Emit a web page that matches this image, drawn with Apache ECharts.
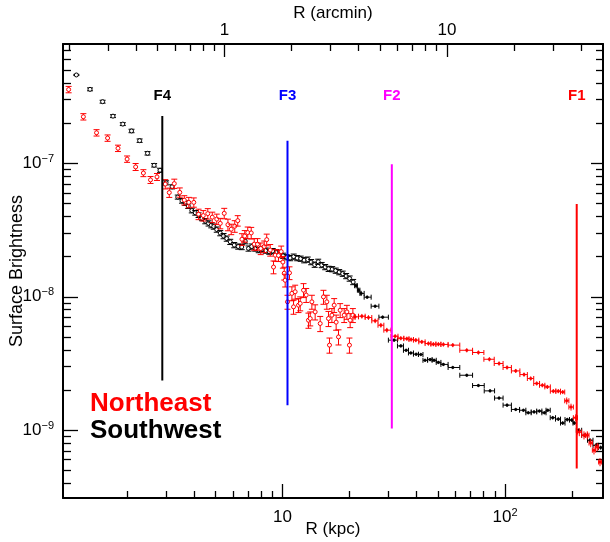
<!DOCTYPE html>
<html><head><meta charset="utf-8">
<script src="https://cdn.jsdelivr.net/npm/echarts@6.0.0/dist/echarts.min.js"></script>
<style>html,body{margin:0;padding:0;background:#fff}#c{width:610px;height:542px}</style>
</head><body><div id="c"></div>
<script>
// ---- Northeast (red) profile: radius (kpc), surface brightness, relative error ----
const rNE = [
 1.094, 1.274, 1.460, 1.637, 1.823, 2.003, 2.188, 2.371, 2.552, 2.729,
 2.973, 3.099, 3.264, 3.455, 3.620, 3.792, 3.994, 4.196, 4.406, 4.616,
 4.835, 5.065, 5.252, 5.473, 5.686, 5.883, 6.101, 6.293, 6.572, 6.766,
 6.978, 7.235, 7.463, 7.722, 7.982, 8.277, 8.492, 8.807, 9.112, 9.273,
 9.594, 9.867, 10.04, 10.18, 10.28, 10.53, 10.75, 11.02, 11.21, 11.40,
 11.80, 12.01, 12.43, 12.78, 13.08, 13.32, 13.55, 14.02, 14.77, 15.28,
 15.82, 16.09, 16.26, 16.67, 17.07, 17.42, 17.85, 18.16, 18.93, 19.47,
 19.99, 20.14, 20.71, 21.20, 22.73, 24.33, 26.08, 27.67, 29.43, 32.07,
 34.01, 36.19, 37.84, 39.72, 42.26, 45.25, 47.64, 50.18, 52.84, 58.24,
 67.30, 75.88, 85.03, 94.0, 102.1, 111.7, 121.7, 130.4, 138.8, 147.1,
 154.9, 164.8, 173.5, 181.6, 189.3, 197.9, 207.7, 215.6, 226.3, 234.2,
 242.6, 251.0, 259.7, 267.1
];
const sbNE = [
 3.578e-7, 2.236e-7, 1.696e-7, 1.548e-7, 1.298e-7, 1.077e-7, 9.41e-8, 8.46e-8, 7.52e-8, 7.92e-8,
 6.99e-8, 6.04e-8, 7.05e-8, 6.06e-8, 5.30e-8, 5.10e-8, 5.10e-8, 4.16e-8, 4.06e-8, 4.20e-8,
 3.95e-8, 3.82e-8, 3.55e-8, 4.22e-8, 3.47e-8, 3.21e-8, 3.38e-8, 3.72e-8, 2.70e-8, 2.85e-8,
 3.03e-8, 3.01e-8, 2.48e-8, 2.48e-8, 2.30e-8, 2.38e-8, 2.68e-8, 2.24e-8, 1.67e-8, 2.05e-8,
 2.04e-8, 2.18e-8, 1.82e-8, 1.50e-8, 1.33e-8, 9.16e-9, 1.51e-8, 1.06e-8, 8.40e-9, 1.09e-8,
 8.65e-9, 8.91e-9, 1.12e-8, 1.03e-8, 6.67e-9, 6.87e-9, 9.16e-9, 7.70e-9, 6.30e-9, 9.98e-9,
 9.16e-9, 6.87e-9, 4.34e-9, 7.28e-9, 8.65e-9, 6.45e-9, 5.00e-9, 7.93e-9, 7.28e-9, 7.70e-9,
 4.34e-9, 6.67e-9, 7.28e-9, 7.07e-9, 7.15e-9, 6.99e-9, 6.60e-9, 6.12e-9, 5.62e-9, 5.06e-9,
 4.89e-9, 4.85e-9, 4.78e-9, 4.73e-9, 4.59e-9, 4.46e-9, 4.41e-9, 4.41e-9, 4.39e-9, 4.34e-9,
 3.97e-9, 3.82e-9, 3.40e-9, 3.16e-9, 2.95e-9, 2.78e-9, 2.61e-9, 2.44e-9, 2.24e-9, 2.17e-9,
 2.11e-9, 1.96e-9, 1.96e-9, 1.93e-9, 1.66e-9, 1.49e-9, 1.24e-9, 9.69e-10, 9.16e-10, 9.16e-10,
 8.01e-10, 7.07e-10, 7.48e-10, 5.77e-10
];
const errNE = [
 0.055, 0.055, 0.055, 0.055, 0.055, 0.055, 0.06, 0.06, 0.06, 0.06,
 0.08, 0.08, 0.08, 0.08, 0.08, 0.09, 0.08, 0.09, 0.09, 0.09,
 0.09, 0.09, 0.09, 0.09, 0.10, 0.09, 0.10, 0.09, 0.10, 0.10,
 0.10, 0.10, 0.10, 0.10, 0.10, 0.10, 0.10, 0.10, 0.11, 0.10,
 0.10, 0.10, 0.10, 0.11, 0.11, 0.12, 0.11, 0.12, 0.12, 0.12,
 0.12, 0.12, 0.12, 0.12, 0.13, 0.12, 0.12, 0.13, 0.13, 0.12,
 0.12, 0.13, 0.13, 0.12, 0.12, 0.13, 0.13, 0.12, 0.12, 0.12,
 0.13, 0.12, 0.12, 0.05, 0.04, 0.04, 0.04, 0.04, 0.04, 0.035,
 0.035, 0.035, 0.035, 0.035, 0.035, 0.035, 0.035, 0.035, 0.035, 0.035,
 0.035, 0.035, 0.035, 0.035, 0.035, 0.035, 0.035, 0.035, 0.035, 0.035,
 0.035, 0.035, 0.035, 0.035, 0.06, 0.06, 0.06, 0.07, 0.07, 0.07,
 0.07, 0.07, 0.07, 0.07
];

// ---- Southwest (black) profile ----
const rSW = [
 1.185, 1.365, 1.555, 1.731, 1.916, 2.097, 2.280, 2.474, 2.649, 2.815,
 2.998, 3.190, 3.384, 3.535, 3.658, 3.773, 3.912, 4.055, 4.196, 4.347,
 4.498, 4.654, 4.785, 4.911, 5.065, 5.252, 5.434, 5.616, 5.823, 6.069,
 6.326, 6.559, 6.800, 7.036, 7.272, 7.541, 7.818, 8.107, 8.407, 8.716,
 9.036, 9.370, 9.714, 10.07, 10.44, 10.83, 11.23, 11.64, 12.07, 12.51,
 12.98, 13.45, 13.95, 14.47, 15.00, 15.55, 16.12, 16.72, 17.34, 17.98,
 18.64, 19.32, 20.03, 20.77, 21.42, 21.99, 22.56, 24.01, 26.08, 28.18,
 31.74, 34.01, 35.93, 37.72, 39.84, 41.83, 43.73, 46.05, 47.99, 50.18,
 52.84, 58.24, 67.30, 75.88, 85.64, 94.0, 102.1, 111.7, 120.9, 127.2,
 135.0, 142.6, 150.2, 155.5, 163.8, 173.5, 181.6, 190.4, 199.3, 204.7,
 213.4, 228.7, 240.8, 256.2, 269.0
];
const sbSW = [
 4.60e-7, 3.59e-7, 2.90e-7, 2.26e-7, 1.97e-7, 1.75e-7, 1.48e-7, 1.19e-7, 9.68e-8, 8.88e-8,
 7.15e-8, 6.67e-8, 5.59e-8, 5.24e-8, 5.04e-8, 4.78e-8, 4.43e-8, 4.26e-8, 4.09e-8, 3.87e-8,
 3.69e-8, 3.55e-8, 3.44e-8, 3.36e-8, 3.19e-8, 3.00e-8, 2.85e-8, 2.73e-8, 2.58e-8, 2.44e-8,
 2.38e-8, 2.36e-8, 2.61e-8, 2.30e-8, 2.38e-8, 2.30e-8, 2.24e-8, 2.28e-8, 2.22e-8, 2.18e-8,
 2.20e-8, 2.16e-8, 2.11e-8, 2.03e-8, 1.98e-8, 1.95e-8, 2.00e-8, 1.95e-8, 1.93e-8, 1.88e-8,
 1.90e-8, 1.82e-8, 1.74e-8, 1.83e-8, 1.73e-8, 1.67e-8, 1.62e-8, 1.61e-8, 1.57e-8, 1.53e-8,
 1.49e-8, 1.43e-8, 1.37e-8, 1.29e-8, 1.21e-8, 1.12e-8, 1.06e-8, 9.93e-9, 8.50e-9, 7.03e-9,
 4.73e-9, 4.28e-9, 3.97e-9, 3.79e-9, 3.71e-9, 3.69e-9, 3.34e-9, 3.38e-9, 3.34e-9, 3.22e-9,
 3.11e-9, 2.95e-9, 2.58e-9, 2.16e-9, 1.97e-9, 1.74e-9, 1.54e-9, 1.43e-9, 1.41e-9, 1.35e-9,
 1.37e-9, 1.39e-9, 1.35e-9, 1.41e-9, 1.24e-9, 1.21e-9, 1.13e-9, 1.20e-9, 1.19e-9, 1.13e-9,
 9.98e-10, 9.16e-10, 8.40e-10, 7.70e-10, 7.40e-10
];
const errSW = [
 0.01, 0.025, 0.025, 0.025, 0.025, 0.03, 0.03, 0.03, 0.03, 0.035,
 0.035, 0.035, 0.035, 0.04, 0.04, 0.04, 0.04, 0.04, 0.04, 0.04,
 0.045, 0.045, 0.045, 0.045, 0.045, 0.045, 0.045, 0.045, 0.045, 0.045,
 0.045, 0.045, 0.045, 0.045, 0.045, 0.045, 0.045, 0.045, 0.045, 0.045,
 0.045, 0.045, 0.045, 0.045, 0.045, 0.045, 0.045, 0.045, 0.045, 0.045,
 0.045, 0.045, 0.045, 0.045, 0.045, 0.045, 0.045, 0.045, 0.045, 0.045,
 0.045, 0.045, 0.045, 0.045, 0.045, 0.045, 0.045, 0.025, 0.025, 0.025,
 0.025, 0.025, 0.025, 0.025, 0.025, 0.025, 0.025, 0.025, 0.025, 0.025,
 0.025, 0.025, 0.025, 0.025, 0.025, 0.025, 0.025, 0.025, 0.025, 0.025,
 0.025, 0.025, 0.025, 0.025, 0.03, 0.03, 0.03, 0.03, 0.03, 0.03,
 0.03, 0.035, 0.035, 0.035, 0.035
];
const binnedFromKpc = 21;   // beyond this radius the annuli are drawn as bins

// ---- Fronts ----
const frontNames  = ['F1', 'F2', 'F3', 'F4'];
const frontR      = [209.9, 30.99, 10.53, 2.883];
const frontTop    = [4.95e-8, 9.83e-8, 1.477e-7, 2.264e-7];
const frontBottom = [5.15e-10, 1.028e-9, 1.537e-9, 2.355e-9];
const frontLabelSB = 3.2e-7;
const frontColors = ['#ff0000', '#ff00ff', '#0000ff', '#000000'];

// ---- Axes ----
const kpcPerArcmin = 5.48;
const xRange = [1.032, 275.5];
const yRange = [3.1e-10, 7.85e-7];
const xTicksMajor = [10, 100];
const xTicksMinor = [2, 3, 4, 5, 6, 7, 8, 9, 20, 30, 40, 50, 60, 70, 80, 90, 200];
const arcTicksMajor = [1, 10];
const arcTicksMinor = [0.2, 0.3, 0.4, 0.5, 0.6, 0.7, 0.8, 0.9, 2, 3, 4, 5, 6, 7, 8, 9, 20, 30, 40];
const yTicksMajor = [1e-9, 1e-8, 1e-7];
const yTicksMinor = [4e-10, 5e-10, 6e-10, 7e-10, 8e-10, 9e-10,
  2e-9, 3e-9, 4e-9, 5e-9, 6e-9, 7e-9, 8e-9, 9e-9,
  2e-8, 3e-8, 4e-8, 5e-8, 6e-8, 7e-8, 8e-8, 9e-8,
  2e-7, 3e-7, 4e-7, 5e-7, 6e-7, 7e-7];

const FONT = '"Liberation Sans", Arial, Helvetica, sans-serif';

function buildPoints(r, sb, err) {
  return r.map((x, i) => {
    const y = sb[i], e = err[i];
    let xl = x, xh = x;
    if (x >= binnedFromKpc) {
      xl = i > 0 ? Math.sqrt(r[i - 1] * x) : x;
      xh = i < r.length - 1 ? Math.sqrt(r[i + 1] * x) : x * Math.sqrt(x / r[i - 1]);
    }
    return [x, y, y * (1 - e), y * (1 + e), xl, xh];
  });
}

function errRender(color) {
  return function (params, api) {
    const x = api.value(0), y = api.value(1);
    const p = api.coord([x, y]);
    const lo = api.coord([x, api.value(2)]);
    const hi = api.coord([x, api.value(3)]);
    const xl = api.value(4), xh = api.value(5);
    const st = { stroke: color, lineWidth: 1, fill: null };
    const ch = [];
    ch.push({ type: 'line', shape: { x1: p[0], y1: lo[1], x2: p[0], y2: hi[1] }, style: st });
    if (xh > xl) {
      const a = api.coord([xl, y]), b = api.coord([xh, y]);
      ch.push({ type: 'line', shape: { x1: a[0], y1: p[1], x2: b[0], y2: p[1] }, style: st });
      ch.push({ type: 'line', shape: { x1: a[0], y1: p[1] - 2.5, x2: a[0], y2: p[1] + 2.5 }, style: st });
      ch.push({ type: 'line', shape: { x1: b[0], y1: p[1] - 2.5, x2: b[0], y2: p[1] + 2.5 }, style: st });
      ch.push({ type: 'circle', shape: { cx: p[0], cy: p[1], r: 1.3 }, style: { fill: color, stroke: color, lineWidth: 0.5 } });
    } else {
      ch.push({ type: 'line', shape: { x1: p[0] - 3, y1: lo[1], x2: p[0] + 3, y2: lo[1] }, style: st });
      ch.push({ type: 'line', shape: { x1: p[0] - 3, y1: hi[1], x2: p[0] + 3, y2: hi[1] }, style: st });
      ch.push({ type: 'circle', shape: { cx: p[0], cy: p[1], r: 2 }, style: { fill: '#fff', stroke: color, lineWidth: 1 } });
    }
    return { type: 'group', children: ch };
  };
}

function powLabel(v) {
  const e = Math.round(Math.log10(v));
  if (e === 1) return '{b|10}';
  return '{b|10}{s|' + (e < 0 ? '\u2212' + (-e) : e) + '}';
}
const rich = {
  b: { fontSize: 17, fontFamily: FONT, color: '#000', lineHeight: 20 },
  s: { fontSize: 11, fontFamily: FONT, color: '#000', verticalAlign: 'top', lineHeight: 12 }
};

function axisBase(extra) {
  return Object.assign({
    type: 'log', logBase: 10, gridIndex: 0, nameMoveOverlap: false,
    splitLine: { show: false }, minorTick: { show: false }, minorSplitLine: { show: false },
    axisLine: { show: false, onZero: false }, axisLabel: { show: false }, axisPointer: { show: false }
  }, extra);
}
const majorLine = { show: true, onZero: false, lineStyle: { color: '#000', width: 2 } };
const tickStyle = { color: '#000', width: 1.3 };

const arcRange = [xRange[0] / kpcPerArcmin, xRange[1] / kpcPerArcmin];

const frontData = frontR.map((r, i) => [r, frontTop[i], frontBottom[i], i]);

const option = {
  animation: false,
  backgroundColor: '#fff',
  grid: { left: 63, right: 7, top: 44, bottom: 44, containLabel: false, outerBoundsMode: 'none' },
  xAxis: [
    axisBase({ position: 'bottom', min: xRange[0], max: xRange[1], axisLine: majorLine,
      axisTick: { show: true, inside: true, length: 14, customValues: xTicksMajor, lineStyle: tickStyle },
      axisLabel: { show: true, customValues: xTicksMajor, formatter: powLabel, rich: rich, margin: 9 },
      name: 'R (kpc)', nameLocation: 'middle', nameGap: 23,
      nameTextStyle: { fontSize: 17, fontFamily: FONT, color: '#000' } }),
    axisBase({ position: 'bottom', min: xRange[0], max: xRange[1],
      axisTick: { show: true, inside: true, length: 7, customValues: xTicksMinor, lineStyle: tickStyle } }),
    axisBase({ position: 'top', min: arcRange[0], max: arcRange[1], axisLine: majorLine,
      axisTick: { show: true, inside: true, length: 13, customValues: arcTicksMajor, lineStyle: tickStyle },
      axisLabel: { show: true, customValues: arcTicksMajor, formatter: v => String(Math.round(v)),
        fontSize: 17, fontFamily: FONT, color: '#000', margin: 5 },
      name: 'R (arcmin)', nameLocation: 'middle', nameGap: 22,
      nameTextStyle: { fontSize: 17, fontFamily: FONT, color: '#000' } }),
    axisBase({ position: 'top', min: arcRange[0], max: arcRange[1],
      axisTick: { show: true, inside: true, length: 7, customValues: arcTicksMinor, lineStyle: tickStyle } })
  ],
  yAxis: [
    axisBase({ position: 'left', min: yRange[0], max: yRange[1], axisLine: majorLine,
      axisTick: { show: true, inside: true, length: 15, customValues: yTicksMajor, lineStyle: tickStyle },
      axisLabel: { show: true, customValues: yTicksMajor, formatter: powLabel, rich: rich, margin: 9 },
      name: 'Surface Brightness', nameLocation: 'middle', nameGap: 37,
      nameTextStyle: { fontSize: 18, fontFamily: FONT, color: '#000' } }),
    axisBase({ position: 'left', min: yRange[0], max: yRange[1],
      axisTick: { show: true, inside: true, length: 8, customValues: yTicksMinor, lineStyle: tickStyle } }),
    axisBase({ position: 'right', min: yRange[0], max: yRange[1], axisLine: majorLine,
      axisTick: { show: true, inside: true, length: 12, customValues: yTicksMajor, lineStyle: tickStyle } }),
    axisBase({ position: 'right', min: yRange[0], max: yRange[1],
      axisTick: { show: true, inside: true, length: 7, customValues: yTicksMinor, lineStyle: tickStyle } })
  ],
  series: [
    { name: 'Southwest', type: 'custom', xAxisIndex: 0, yAxisIndex: 0,
      renderItem: errRender('#000000'), encode: { x: 0, y: 1 },
      data: buildPoints(rSW, sbSW, errSW), z: 2, silent: true },
    { name: 'Northeast', type: 'custom', xAxisIndex: 0, yAxisIndex: 0,
      renderItem: errRender('#ff0000'), encode: { x: 0, y: 1 },
      data: buildPoints(rNE, sbNE, errNE), z: 3, silent: true },
    { name: 'Fronts', type: 'custom', xAxisIndex: 0, yAxisIndex: 0, encode: { x: 0, y: 1 },
      data: frontData, z: 4, silent: true,
      renderItem: function (params, api) {
        const r = api.value(0), i = api.value(3);
        const t = api.coord([r, api.value(1)]), b = api.coord([r, api.value(2)]);
        const l = api.coord([r, frontLabelSB]);
        const c = frontColors[i];
        return { type: 'group', children: [
          { type: 'line', shape: { x1: t[0], y1: t[1], x2: b[0], y2: b[1] }, style: { stroke: c, lineWidth: 2 } },
          { type: 'text', x: l[0], y: l[1], style: { text: frontNames[i], fill: c,
            font: 'bold 15px ' + FONT, align: 'center', verticalAlign: 'middle' } }
        ] };
      } }
  ],
  graphic: [
    { type: 'text', x: 90, y: 404, style: { text: 'Northeast', fill: '#ff0000', font: 'bold 26px ' + FONT, verticalAlign: 'middle' } },
    { type: 'text', x: 90, y: 431, style: { text: 'Southwest', fill: '#000000', font: 'bold 26px ' + FONT, verticalAlign: 'middle' } }
  ]
};

const chart = echarts.init(document.getElementById('c'), null, { renderer: 'canvas' });
chart.setOption(option);
</script>
</body></html>
